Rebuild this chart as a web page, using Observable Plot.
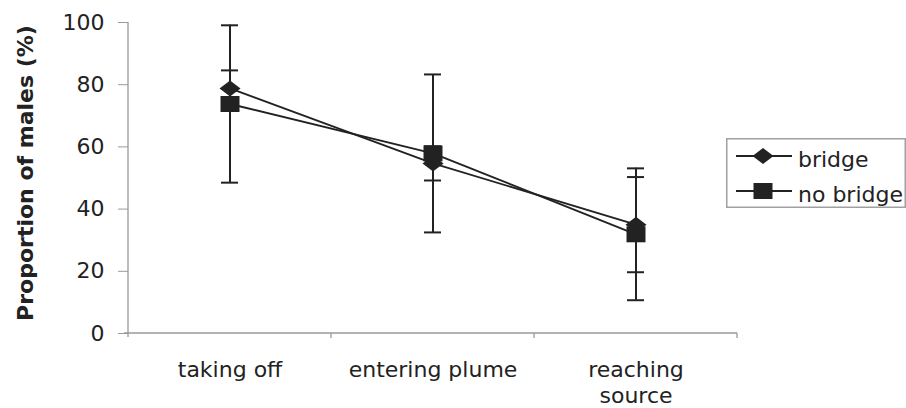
<!DOCTYPE html>
<html><head><meta charset="utf-8">
<script src="https://cdn.jsdelivr.net/npm/d3@7"></script>
<script src="https://cdn.jsdelivr.net/npm/@observablehq/plot@0.6"></script>
<style>
body{margin:0;background:#fff;}
#wrap{position:relative;width:906px;height:408px;font-family:"DejaVu Sans",sans-serif;background:#fff;}
</style></head><body><div id="wrap"></div>
<script>
const categories = ["taking off", "entering plume", "reaching source"];
const xTickLabels = ["taking off", "entering plume", "reaching\nsource"];
const seriesNames = ["bridge", "no bridge"];
const bridge = [78.8, 54.7, 35.0];
const bridgeErr = [5.8, 5.5, 15.3];
const noBridge = [73.8, 57.9, 31.9];
const noBridgeErr = [25.3, 25.4, 21.2];
const yTicks = [0, 20, 40, 60, 80, 100];
const yLabel = "Proportion of males (%)";

const ink = "#222";
const axisGrey = "#9a9a9a";

const rows = [];
categories.forEach((c, i) => {
  rows.push({series: seriesNames[0], cat: c, value: bridge[i], err: bridgeErr[i]});
  rows.push({series: seriesNames[1], cat: c, value: noBridge[i], err: noBridgeErr[i]});
});

const diamondSym = {draw(ctx) { ctx.moveTo(0, -8); ctx.lineTo(10.5, 0); ctx.lineTo(0, 8); ctx.lineTo(-10.5, 0); ctx.closePath(); }};
const squareSym = {draw(ctx) { ctx.rect(-9.5, -8, 19, 16); }};
const symbols = [diamondSym, squareSym];

function axisLines(index, scales, values, dimensions) {
  const {width, height, marginLeft, marginRight, marginTop, marginBottom} = dimensions;
  const x = scales.x;
  const bw = x && x.bandwidth ? x.bandwidth() : (width - marginLeft - marginRight) / categories.length;
  const y0 = height - marginBottom;
  const g = d3.create("svg:g").attr("stroke", axisGrey).attr("stroke-width", 1.3).attr("fill", "none");
  g.append("line").attr("x1", marginLeft).attr("x2", marginLeft).attr("y1", marginTop).attr("y2", y0 + 4);
  g.append("line").attr("x1", marginLeft - 4).attr("x2", width - marginRight).attr("y1", y0).attr("y2", y0);
  for (const c of categories) {
    const xr = x(c) + bw;
    g.append("line").attr("x1", xr).attr("x2", xr).attr("y1", y0).attr("y2", y0 + 5);
  }
  return g.node();
}

const plot = Plot.plot({
  width: 906,
  height: 408,
  marginLeft: 128,
  marginRight: 169,
  marginTop: 22,
  marginBottom: 75,
  style: {fontFamily: "DejaVu Sans", fontSize: "22px", color: ink, background: "white", overflow: "visible"},
  x: {type: "band", domain: categories, paddingInner: 0, paddingOuter: 0},
  y: {domain: [0, 100]},
  marks: [
    axisLines,
    Plot.axisY({ticks: yTicks, tickSize: 10, tickPadding: 14, stroke: axisGrey, fill: ink, label: null}),
    Plot.axisX({tickSize: 0, tickPadding: 25, tickFormat: d => xTickLabels[categories.indexOf(d)], lineHeight: 1.18, fill: ink, label: null}),
    Plot.text([yLabel], {text: d => d, frameAnchor: "left", textAnchor: "middle", lineAnchor: "middle", rotate: -90, dx: -103, dy: -5, fontWeight: "bold", fontSize: 22, fill: ink}),
    Plot.ruleX(rows, {x: "cat", y1: d => d.value - d.err, y2: d => d.value + d.err, stroke: ink, strokeWidth: 2}),
    Plot.tickY(rows, {x: "cat", y: d => d.value + d.err, stroke: ink, strokeWidth: 2, insetLeft: 93, insetRight: 93}),
    Plot.tickY(rows, {x: "cat", y: d => d.value - d.err, stroke: ink, strokeWidth: 2, insetLeft: 93, insetRight: 93}),
    Plot.line(rows, {x: "cat", y: "value", z: "series", stroke: ink, strokeWidth: 1.9}),
    Plot.dot(rows.filter(d => d.series === seriesNames[0]), {x: "cat", y: "value", symbol: diamondSym, fill: ink, stroke: "none"}),
    Plot.dot(rows.filter(d => d.series === seriesNames[1]), {x: "cat", y: "value", symbol: squareSym, fill: ink, stroke: "none"})
  ]
});
const wrap = document.getElementById("wrap");
wrap.appendChild(plot);

// legend
const leg = d3.create("svg").attr("id", "legend").attr("width", 180).attr("height", 70)
  .style("position", "absolute").style("left", "726px").style("top", "138px").style("overflow", "visible");
leg.append("rect").attr("x", 0.75).attr("y", 0.75).attr("width", 178.5).attr("height", 68.5)
  .attr("fill", "white").attr("stroke", "#a0a0a0").attr("stroke-width", 1.5);
seriesNames.forEach((name, i) => {
  const cy = 18 + i * 35;
  const row = leg.append("g");
  row.append("line").attr("x1", 10).attr("x2", 66).attr("y1", cy).attr("y2", cy).attr("stroke", ink).attr("stroke-width", 1.8);
  const p = d3.path();
  symbols[i].draw(p);
  row.append("path").attr("d", p.toString()).attr("transform", `translate(37,${cy})`).attr("fill", ink);
  row.append("text").attr("x", 72).attr("y", cy + 4).attr("dy", "0.32em").attr("fill", ink)
    .style("font-family", "DejaVu Sans").style("font-size", "22px").text(name);
});
wrap.appendChild(leg.node());
</script></body></html>
